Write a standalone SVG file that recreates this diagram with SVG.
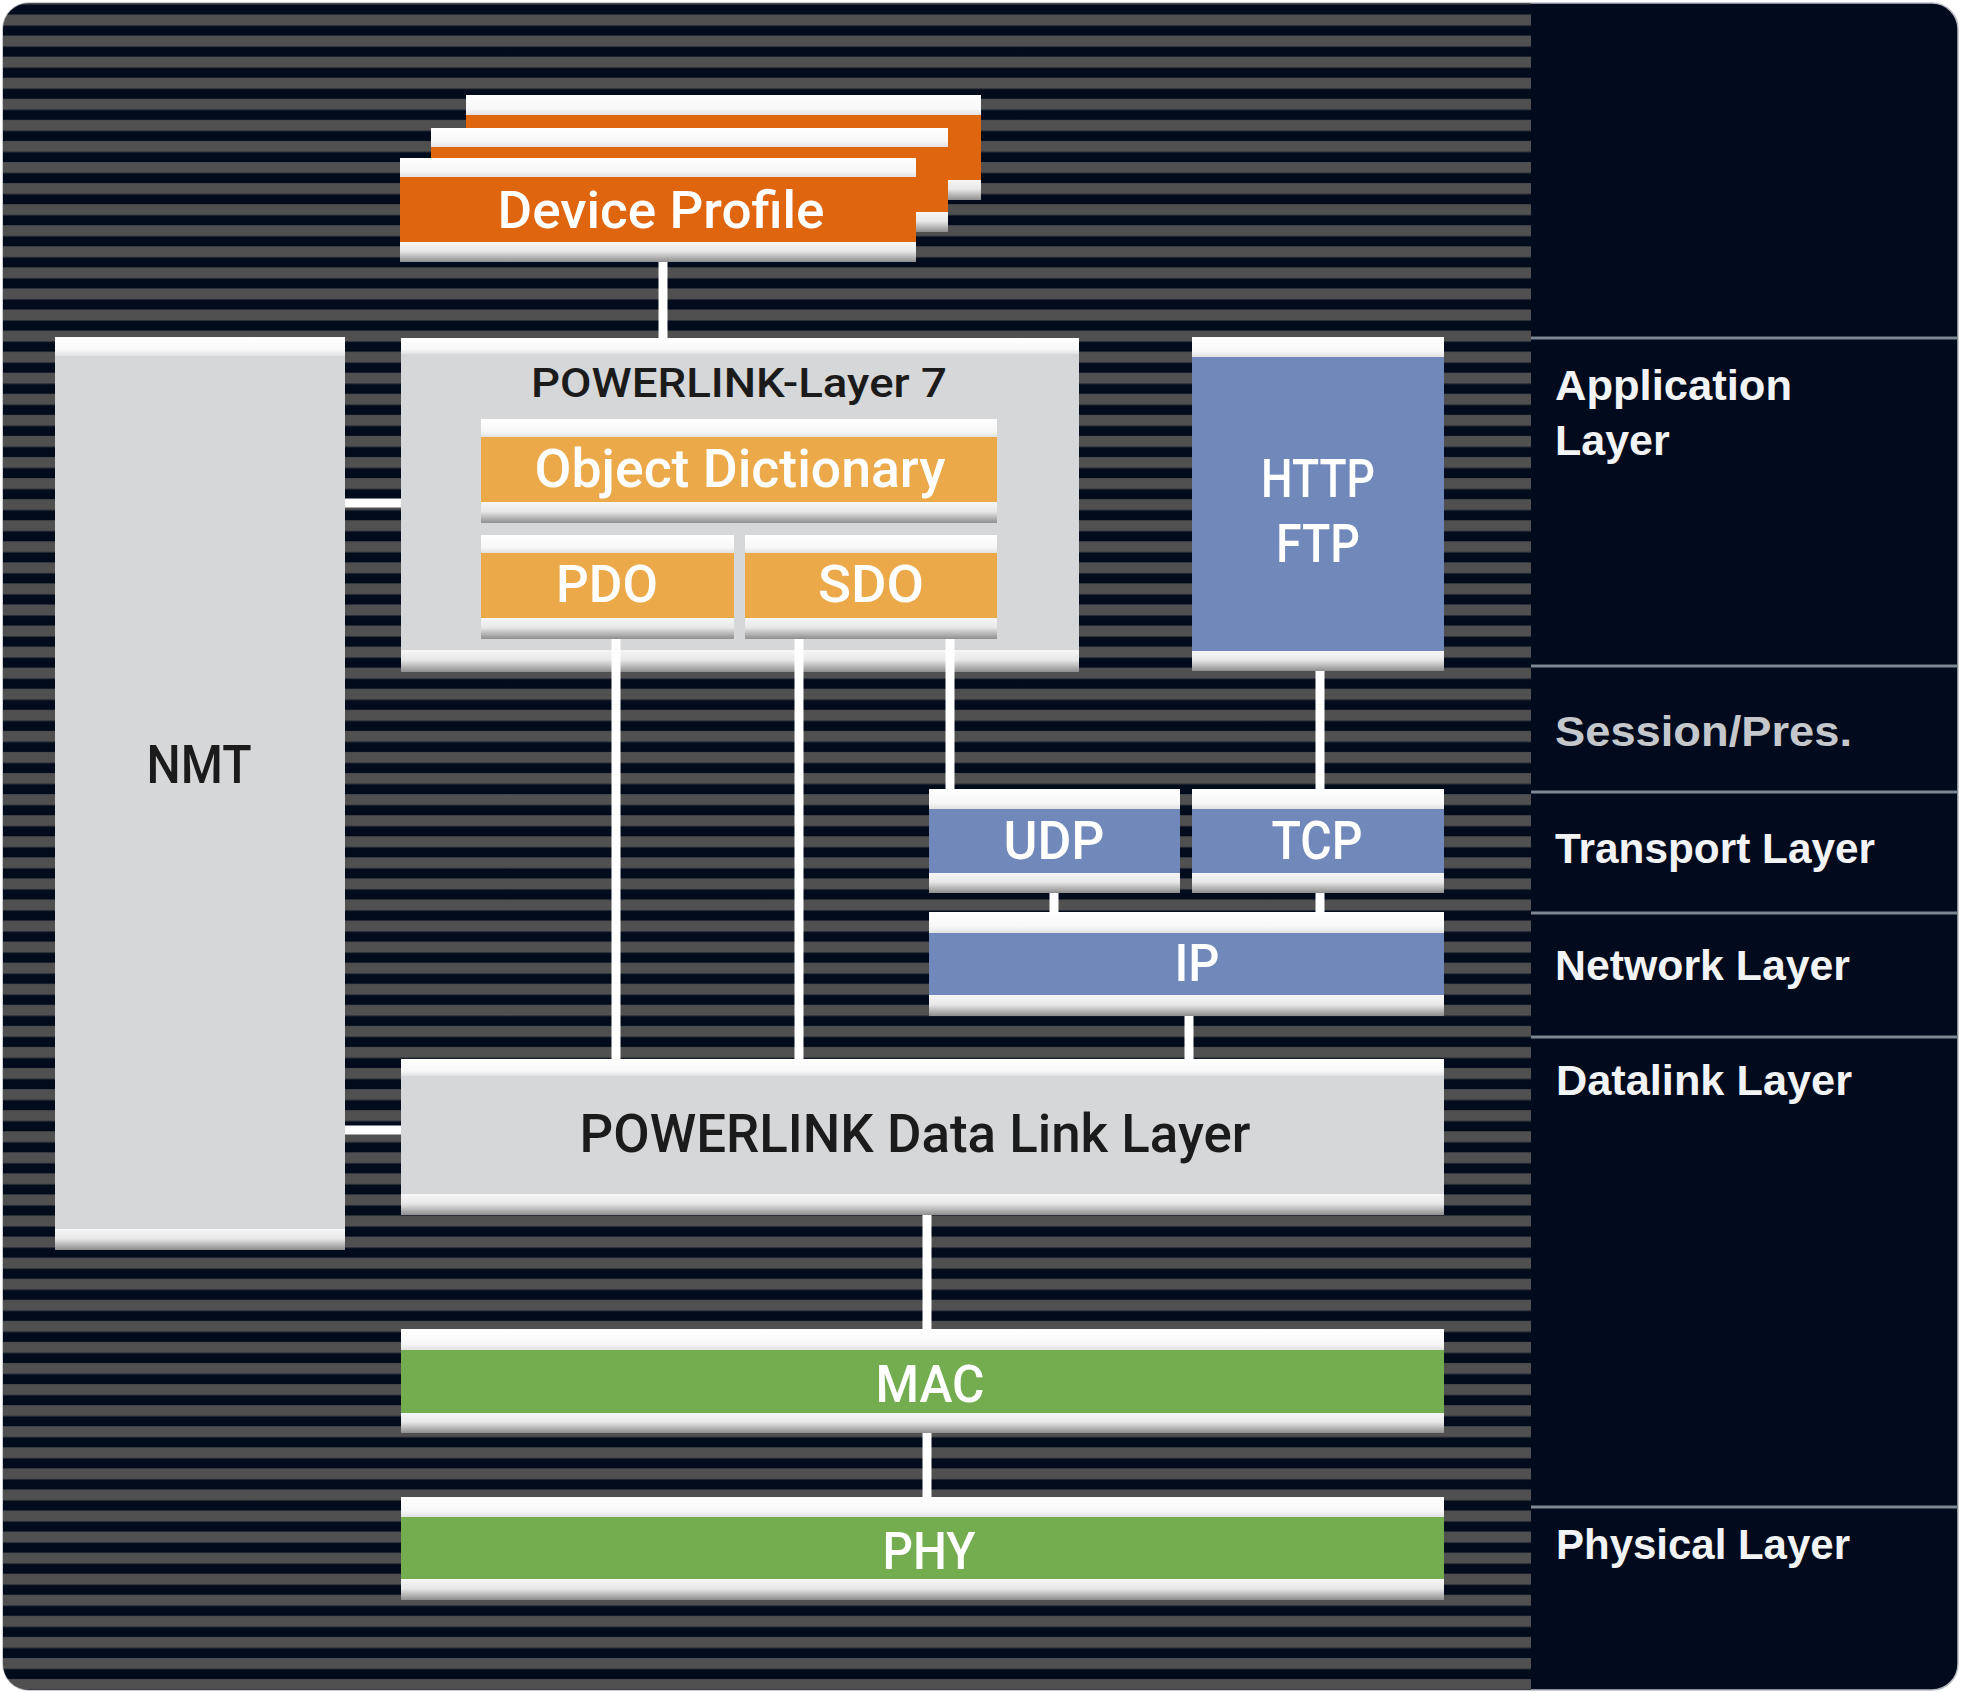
<svg xmlns="http://www.w3.org/2000/svg" width="1961" height="1693" viewBox="0 0 1961 1693">
<style>
.lbl{font-family:Roboto,"Liberation Sans",Arial,sans-serif;font-weight:500;text-anchor:middle}
.w{fill:#ffffff}
.k{fill:#1b1b1b}
.side{font-family:"Liberation Sans",Arial,sans-serif;font-weight:bold;font-size:43px;fill:#f2f3f5}
.dim{fill:#c4c7cc}
.gray{fill:#d6d7d9}
.orD{fill:#e0650f}
.orL{fill:#eca94a}
.blue{fill:#7189ba}
.green{fill:#74ad4f}
.tops{fill:url(#topg)}
.bots{fill:url(#botg)}
.conn{stroke:#ffffff;stroke-width:9;fill:none}
.sep{stroke:#7d8894;stroke-width:3}
</style>
<defs>
<linearGradient id="stripes" gradientUnits="userSpaceOnUse" x1="0" y1="15" x2="0" y2="36.07" spreadMethod="repeat">
<stop offset="0" stop-color="#4a4b4d"/>
<stop offset="0.05" stop-color="#505050"/>
<stop offset="0.45" stop-color="#505050"/>
<stop offset="0.55" stop-color="#030c1d"/>
<stop offset="0.95" stop-color="#020b1c"/>
<stop offset="1" stop-color="#4a4b4d"/>
</linearGradient>
<linearGradient id="topg" x1="0" y1="0" x2="0" y2="1">
<stop offset="0" stop-color="#ffffff"/>
<stop offset="0.7" stop-color="#f7f7f7"/>
<stop offset="1" stop-color="#e2e2e2"/>
</linearGradient>
<linearGradient id="botg" x1="0" y1="0" x2="0" y2="1">
<stop offset="0" stop-color="#f6f6f6"/>
<stop offset="0.45" stop-color="#e8e8e8"/>
<stop offset="1" stop-color="#8e8e8e"/>
</linearGradient>
<clipPath id="frame">
<rect x="3" y="3" width="1955" height="1687" rx="26"/>
</clipPath>
</defs>

<rect width="1961" height="1693" fill="#ffffff"/>
<g id="background">
<rect x="3" y="3" width="1955" height="1687" rx="26" fill="#010b1d" stroke="#b8bcc2" stroke-width="1.5"/>
<rect x="3" y="3" width="1528" height="1687" fill="url(#stripes)" clip-path="url(#frame)"/>
</g>

<g id="layer-scale">
<line class="sep" x1="1531" y1="338" x2="1958" y2="338"/>
<line class="sep" x1="1531" y1="666" x2="1958" y2="666"/>
<line class="sep" x1="1531" y1="792" x2="1958" y2="792"/>
<line class="sep" x1="1531" y1="913" x2="1958" y2="913"/>
<line class="sep" x1="1531" y1="1037" x2="1958" y2="1037"/>
<line class="sep" x1="1531" y1="1507" x2="1958" y2="1507"/>
<text class="side" x="1555" y="400" textLength="237" lengthAdjust="spacingAndGlyphs">Application</text>
<text class="side" x="1555" y="455">Layer</text>
<text class="side dim" x="1555" y="746" textLength="297" lengthAdjust="spacingAndGlyphs">Session/Pres.</text>
<text class="side" x="1555" y="863" textLength="320" lengthAdjust="spacingAndGlyphs">Transport Layer</text>
<text class="side" x="1555" y="980" textLength="295" lengthAdjust="spacingAndGlyphs">Network Layer</text>
<text class="side" x="1556" y="1095" textLength="296" lengthAdjust="spacingAndGlyphs">Datalink Layer</text>
<text class="side" x="1556" y="1559" textLength="294" lengthAdjust="spacingAndGlyphs">Physical Layer</text>
</g>

<g id="device-profile">
<rect class="tops" x="466" y="95" width="515" height="20"/>
<rect class="orD" x="466" y="115" width="515" height="65"/>
<rect class="bots" x="466" y="180" width="515" height="20"/>
<rect class="tops" x="431" y="128" width="517" height="19"/>
<rect class="orD" x="431" y="147" width="517" height="65"/>
<rect class="bots" x="431" y="212" width="517" height="20"/>
<rect class="tops" x="400" y="158" width="516" height="19"/>
<rect class="orD" x="400" y="177" width="516" height="65"/>
<rect class="bots" x="400" y="242" width="516" height="20"/>
<text class="lbl w" x="661" y="228" font-size="52" textLength="327" lengthAdjust="spacingAndGlyphs">Device Profile</text>
</g>

<g id="nmt">
<rect class="tops" x="55" y="337" width="290" height="19"/>
<rect class="gray" x="55" y="356" width="290" height="873"/>
<rect class="bots" x="55" y="1229" width="290" height="21"/>
<text class="lbl k" x="199" y="783" font-size="54" textLength="105" lengthAdjust="spacingAndGlyphs">NMT</text>
</g>

<g id="powerlink-layer7">
<rect class="tops" x="401" y="338" width="678" height="16"/>
<rect class="gray" x="401" y="354" width="678" height="296"/>
<rect class="bots" x="401" y="650" width="678" height="22"/>
<text class="lbl k" x="739" y="397" font-size="41" textLength="416" lengthAdjust="spacingAndGlyphs">POWERLINK-Layer 7</text>
</g>

<g id="object-dictionary">
<rect class="tops" x="481" y="419" width="516" height="18"/>
<rect class="orL" x="481" y="437" width="516" height="65"/>
<rect class="bots" x="481" y="502" width="516" height="21"/>
<text class="lbl w" x="740" y="487" font-size="53" textLength="411" lengthAdjust="spacingAndGlyphs">Object Dictionary</text>
</g>

<g id="pdo">
<rect class="tops" x="481" y="535" width="253" height="18"/>
<rect class="orL" x="481" y="553" width="253" height="65"/>
<rect class="bots" x="481" y="618" width="253" height="21"/>
<text class="lbl w" x="607" y="602" font-size="52" textLength="102" lengthAdjust="spacingAndGlyphs">PDO</text>
</g>

<g id="sdo">
<rect class="tops" x="745" y="535" width="252" height="18"/>
<rect class="orL" x="745" y="553" width="252" height="65"/>
<rect class="bots" x="745" y="618" width="252" height="21"/>
<text class="lbl w" x="871" y="602" font-size="52" textLength="106" lengthAdjust="spacingAndGlyphs">SDO</text>
</g>

<g id="http-ftp">
<rect class="tops" x="1192" y="337" width="252" height="20"/>
<rect class="blue" x="1192" y="357" width="252" height="294"/>
<rect class="bots" x="1192" y="651" width="252" height="20"/>
<text class="lbl w" x="1318" y="497" font-size="53" textLength="114" lengthAdjust="spacingAndGlyphs">HTTP</text>
<text class="lbl w" x="1318" y="562" font-size="53" textLength="84" lengthAdjust="spacingAndGlyphs">FTP</text>
</g>

<g id="udp">
<rect class="tops" x="929" y="789" width="251" height="20"/>
<rect class="blue" x="929" y="809" width="251" height="64"/>
<rect class="bots" x="929" y="873" width="251" height="20"/>
<text class="lbl w" x="1054" y="859" font-size="53" textLength="101" lengthAdjust="spacingAndGlyphs">UDP</text>
</g>

<g id="tcp">
<rect class="tops" x="1192" y="789" width="252" height="20"/>
<rect class="blue" x="1192" y="809" width="252" height="64"/>
<rect class="bots" x="1192" y="873" width="252" height="20"/>
<text class="lbl w" x="1317" y="859" font-size="53" textLength="91" lengthAdjust="spacingAndGlyphs">TCP</text>
</g>

<g id="ip">
<rect class="tops" x="929" y="912" width="515" height="21"/>
<rect class="blue" x="929" y="933" width="515" height="62"/>
<rect class="bots" x="929" y="995" width="515" height="21"/>
<text class="lbl w" x="1197" y="981" font-size="52" textLength="45" lengthAdjust="spacingAndGlyphs">IP</text>
</g>

<g id="data-link-layer">
<rect class="tops" x="401" y="1059" width="1043" height="17"/>
<rect class="gray" x="401" y="1076" width="1043" height="118"/>
<rect class="bots" x="401" y="1194" width="1043" height="21"/>
<text class="lbl k" x="915" y="1152" font-size="54" textLength="671" lengthAdjust="spacingAndGlyphs">POWERLINK Data Link Layer</text>
</g>

<g id="mac">
<rect class="tops" x="401" y="1329" width="1043" height="21"/>
<rect class="green" x="401" y="1350" width="1043" height="63"/>
<rect class="bots" x="401" y="1413" width="1043" height="20"/>
<text class="lbl w" x="930" y="1402" font-size="51" textLength="109" lengthAdjust="spacingAndGlyphs">MAC</text>
</g>

<g id="phy">
<rect class="tops" x="401" y="1497" width="1043" height="20"/>
<rect class="green" x="401" y="1517" width="1043" height="62"/>
<rect class="bots" x="401" y="1579" width="1043" height="21"/>
<text class="lbl w" x="929" y="1569" font-size="51" textLength="93" lengthAdjust="spacingAndGlyphs">PHY</text>
</g>

<g id="connectors">
<line class="conn" x1="663" y1="262" x2="663" y2="338"/>
<line class="conn" x1="345" y1="503" x2="401" y2="503"/>
<line class="conn" x1="345" y1="1130" x2="401" y2="1130"/>
<line class="conn" x1="616" y1="639" x2="616" y2="1059"/>
<line class="conn" x1="799" y1="639" x2="799" y2="1059"/>
<line class="conn" x1="950" y1="639" x2="950" y2="789"/>
<line class="conn" x1="1320" y1="671" x2="1320" y2="789"/>
<line class="conn" x1="1054" y1="893" x2="1054" y2="912"/>
<line class="conn" x1="1320" y1="893" x2="1320" y2="912"/>
<line class="conn" x1="1189" y1="1016" x2="1189" y2="1059"/>
<line class="conn" x1="927" y1="1215" x2="927" y2="1329"/>
<line class="conn" x1="927" y1="1433" x2="927" y2="1497"/>
</g>
</svg>
